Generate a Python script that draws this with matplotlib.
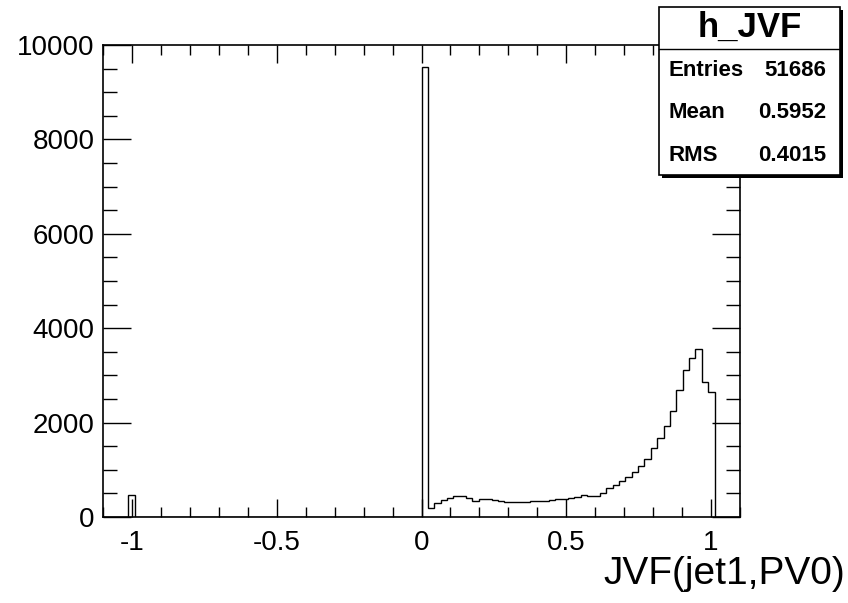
import matplotlib

matplotlib.use("Agg")
import matplotlib.pyplot as plt
import numpy as np
from matplotlib.patches import Rectangle
from matplotlib.ticker import MultipleLocator

plt.rcParams["font.family"] = ["Liberation Sans", "DejaVu Sans"]

# histogram definition: 100 bins in [-1.1, 1.1]
n_bins = 100
x_lo, x_hi = -1.1, 1.1

# bin containing JVF = -1 (no tracks)
minus1_bin = 4
minus1_count = 470

# bins from 0.0 up to 1.012 (bin index 50 .. 95)
first_bin = 50
counts_0_to_1 = [
    9530, 190, 300, 360, 410, 440, 445, 410, 345, 380,
    380, 365, 345, 325, 325, 315, 325, 330, 340, 345,
    365, 375, 385, 395, 415, 470, 455, 450, 500, 615,
    670, 770, 850, 945, 1075, 1235, 1460, 1680, 1930, 2255,
    2690, 3110, 3360, 3555, 2855, 2650,
]

hist_name = "h_JVF"
stats_labels = ["Entries", "Mean", "RMS"]
stats_values = ["51686", "0.5952", "0.4015"]
x_label = "JVF(jet1,PV0)"

edges = np.linspace(x_lo, x_hi, n_bins + 1)
counts = np.zeros(n_bins)
counts[minus1_bin] = minus1_count
counts[first_bin:first_bin + len(counts_0_to_1)] = counts_0_to_1

W, H = 848, 603
fig = plt.figure(figsize=(W / 100, H / 100), dpi=100)
ax = fig.add_axes([103 / W, 1 - 517 / H, (740 - 103) / W, (517 - 45) / H])

ax.stairs(counts, edges, color="black", lw=1.0, baseline=0)

ax.set_xlim(x_lo, x_hi)
ax.set_ylim(0, 10000)
ax.xaxis.set_major_locator(MultipleLocator(0.5))
ax.xaxis.set_minor_locator(MultipleLocator(0.1))
ax.yaxis.set_major_locator(MultipleLocator(2000))
ax.yaxis.set_minor_locator(MultipleLocator(500))
ax.set_xticks([-1, -0.5, 0, 0.5, 1])
ax.set_xticklabels(["-1", "-0.5", "0", "0.5", "1"])

ax.tick_params(axis="both", which="both", direction="in", top=True, right=True,
               width=1.0, labelsize=20, colors="black")
ax.tick_params(axis="x", which="major", length=13, pad=9)
ax.tick_params(axis="x", which="minor", length=7)
ax.tick_params(axis="y", which="major", length=20, pad=6)
ax.tick_params(axis="y", which="minor", length=10)
for sp in ax.spines.values():
    sp.set_linewidth(1.2)

fig.text(845 / W, 1 - 574 / H, x_label, ha="right", va="center", fontsize=28)

# stats box with shadow
bx0, by0, bx1, by1 = 659, 7, 840, 175
shadow = Rectangle((((bx0 + 3) / W), 1 - (by1 + 3) / H), (bx1 - bx0) / W, (by1 - by0) / H,
                   transform=fig.transFigure, facecolor="black", edgecolor="black", lw=0)
box = Rectangle((bx0 / W, 1 - by1 / H), (bx1 - bx0) / W, (by1 - by0) / H,
                transform=fig.transFigure, facecolor="white", edgecolor="black", lw=1.2)
fig.patches.extend([shadow, box])
fig.add_artist(matplotlib.lines.Line2D([bx0 / W, bx1 / W], [1 - 49 / H, 1 - 49 / H],
                                       transform=fig.transFigure, color="black", lw=1.0))
fig.text((bx0 + bx1) / 2 / W, 1 - 27 / H, hist_name, ha="center", va="center",
         fontsize=25, fontweight="bold")
for i, (lab, val) in enumerate(zip(stats_labels, stats_values)):
    y = 1 - (71 + 42 * i) / H
    fig.text(668 / W, y, lab, ha="left", va="center", fontsize=16, fontweight="bold")
    fig.text(826 / W, y, val, ha="right", va="center", fontsize=16, fontweight="bold")

fig.savefig("out.png", dpi=100)
